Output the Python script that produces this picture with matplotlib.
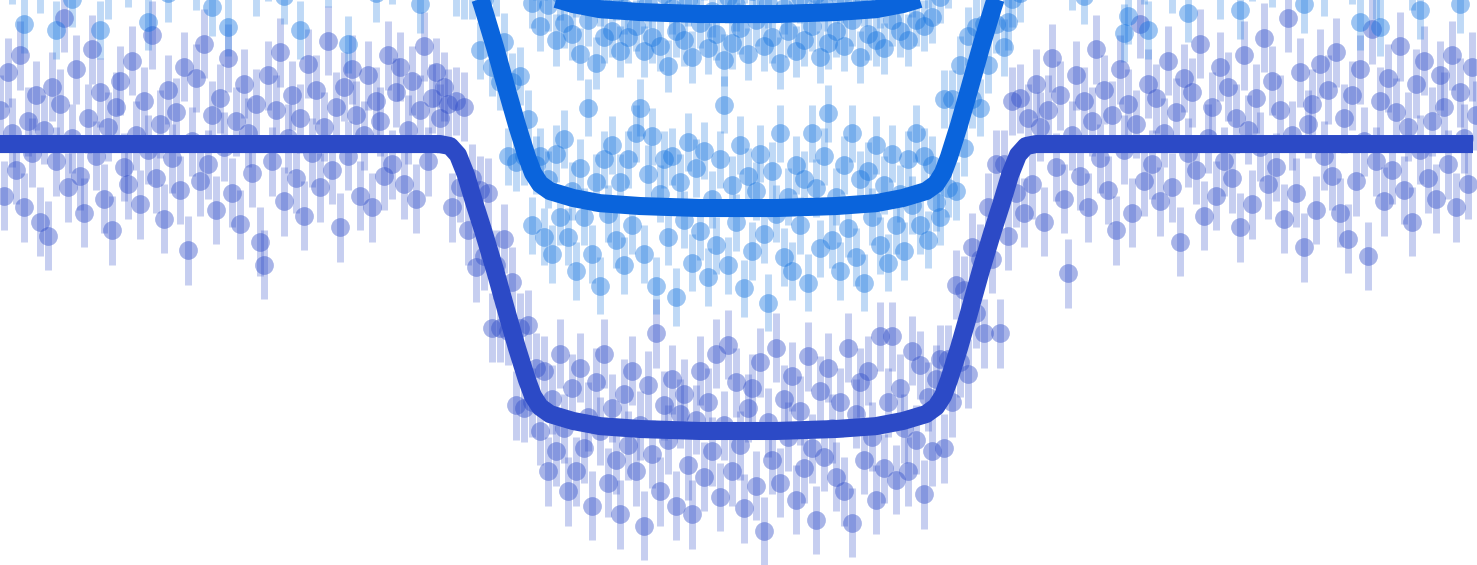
import numpy as np
import matplotlib
matplotlib.use("Agg")
import matplotlib.pyplot as plt

# time grid of the observations [hours from mid-transit], regular cadence
t_start = -7.38
cadence_h = 0.04

# relative flux, in units of 100 ppm (0.1 ppt), each series normalised to its own baseline
flux_band1 = [
    12, -18, 25, 4, -9, 31, -22, 8, -3, 17,
    -27, 5, -32, 20, -6, 14, 44, -15, 2, 26,
    -11, -24, 9, 33, -4, 18, -19, 6, -30, 13,
    22, -8, -14, 29, 3, -21, 15, -2, 38, -12,
    7, -26, 19, -5, 11, -16, 27, -37, 1, 23,
    -13, 35, -7, 10, -23, 16, -1, 30, -17, 8,
    -28, 21, 4, -10, 14, -34, -42, 24, -6, 12,
    32, -20, 2, 17, -12, 9, -25, 28, -3, 19,
    -15, 6, 36, -9, 13, -29, 20, -4, 26, 10,
    -18, 3, 24, -22, 15, 8, -11, 31, -7, 18,
    27, -14, 5, 22, -19, 12, 34, -6, 16, 25,
    9, 20, 14, -22, 15, -15, 13, -30, -12, -43,
    -16, -39, -17, -64, -42, -64, -33, -65, -48, -91,
    -64, -92, -63, -90, -78, -100, -79, -114, -89, -107,
    -73, -99, -121, -85, -114, -78, -106, -95, -126, -83,
    -100, -73, -118, -92, -110, -129, -87, -105, -79, -114,
    -98, -133, -84, -108, -66, -121, -91, -103, -82, -126,
    -94, -87, -112, -129, -96, -79, -116, -90, -107, -73,
    -123, -98, -70, -114, -83, -105, -127, -92, -85, -119,
    -76, -135, -97, -110, -71, -118, -89, -102, -81, -124,
    -93, -113, -74, -106, -131, -86, -109, -78, -99, -116,
    -90, -121, -71, -132, -94, -83, -110, -79, -102, -124,
    -67, -113, -90, -67, -117, -85, -99, -114, -72, -103,
    -77, -122, -88, -107, -82, -75, -106, -75, -90, -49,
    -76, -51, -80, -36, -59, -40, -66, -22, -40, -7,
    -66, -7, -32, 15, -17, 16, -24, 9, -14, 21,
    6, -27, 12, 30, -8, 17, -19, -45, 3, 24,
    -11, 15, -22, 8, 33, -5, 19, -16, 10, -30,
    26, -2, 14, -24, 7, 42, -13, 21, -7, 16,
    -20, 4, 29, -15, 11, -34, 23, -3, 18, -9,
    35, -25, 2, 13, -18, 27, -6, 20, -12, 9,
    -29, 31, 5, -21, 16, -1, 37, -14, 22, -8,
    12, -26, 44, 3, -17, 25, -36, 7, 14, -23,
    28, -4, 19, -11, 32, -24, 9, -33, 17, -13,
    26, 1, -39, 40, -6, 15, -20, 23, -9, 11,
    34, -16, 6, -27, 21, -2, 29, -12, 8, -19,
    24, 13, -7, 31, -22, 18, 2, -14, 27, 10,
]

flux_band2 = [
    15, -8, 22, -19, 4, 27, -36, 11, -13, 6,
    -22, 18, 3, -10, -38, 25, -5, 13, -27, 9,
    20, -16, 7, 31, -3, -38, 12, -24, 17, 1,
    -11, 24, -20, 8, 14, -7, 29, -35, 5, -14,
    19, -2, -25, 10, 33, -17, 6, -9, 23, -21,
    12, -4, 26, -30, 2, 16, -12, -37, 21, 8,
    -15, 30, -6, 11, -23, 17, 4, -18, 28, -1,
    9, -26, 14, 22, -10, -38, 19, 3, -14, 25,
    -7, 13, -20, 32, 6, -11, 18, -43, 10, -4,
    24, -16, 7, 15, -25, 29, -2, 12, -19, 20,
    4, -9, 27, -13, 16, -29, 8, 21, -6, 14,
    -17, 11, -12, 15, -23, 3, -24, 7, -24, -10,
    -45, -27, -19, -51, -23, -56, -42, -82, -56, -84,
    -54, -82, -69, -106, -85, -82, -110, -90, -116, -81,
    -103, -76, -110, -94, -122, -86, -103, -65, -116, -91,
    -127, -83, -102, -78, -111, -91, -120, -83, -106, -74,
    -65, -116, -88, -75, -127, -95, -83, -110, -82, -131,
    -91, -104, -77, -119, -86, -108, -80, -124, -97, -113,
    -83, -64, -120, -92, -105, -78, -128, -89, -115, -94,
    -81, -109, -133, -87, -102, -74, -117, -96, -122, -85,
    -106, -90, -126, -74, -93, -114, -82, -67, -111, -96,
    -122, -85, -107, -74, -117, -90, -126, -87, -103, -78,
    -113, -92, -119, -81, -106, -95, -115, -83, -99, -74,
    -106, -82, -111, -85, -98, -103, -62, -93, -62, -94,
    -50, -79, -40, -62, -37, -65, -36, -50, -14, -36,
    -1, -44, -35, -27, 8, -25, 10, -7, 13, -9,
    24, -17, 6, 19, -12, 28, -4, 10, -21, 15,
    2, -26, 21, -7, 11, 30, -15, 5, 17, -10,
    8, -39, -33, 23, -2, 14, -19, -38, 9, 26,
    -13, 3, 18, -22, 12, -6, 25, -32, 7, 20,
    -15, 33, -8, 1, 16, -24, 11, -3, 22, -11,
    -31, 14, 4, -18, 27, -9, 13, 19, -20, 8,
    31, -5, 15, -14, 24, 2, -29, 10, -16, 21,
    6, -23, 17, -2, 29, -12, 9, 14, -19, 5,
    -35, 22, -8, 12, -24, -37, 18, 3, 26, -13,
    10, -6, 19, -21, 7, -31, 15, -4, 23, -10,
    11, -17, 28, 1, -9, -29, 16, 6, -14, 20,
]

# third band: only the in-transit part is inside the frame
band3_first_index = 130
flux_band3 = [
    -65, -84, -72, -96, -86, -104, -86, -97, -84, -109,
    -93, -103, -83, -107, -92, -114, -88, -102, -84, -117,
    -95, -108, -87, -106, -93, -113, -98, -108, -83, -104,
    -89, -113, -96, -108, -85, -111, -93, -118, -98, -106,
    -88, -109, -95, -115, -91, -103, -86, -112, -99, -107,
    -89, -116, -94, -110, -97, -105, -87, -114, -92, -102,
    -90, -111, -96, -108, -85, -117, -98, -106, -91, -113,
    -94, -109, -88, -104, -93, -115, -97, -110, -86, -106,
    -94, -111, -90, -102, -88, -115, -95, -107, -85, -109,
    -96, -112, -91, -102, -87, -106, -90, -109, -92, -102,
    -82, -104, -89, -101, -83, -94, -80, -89, -68, -78, -61,
]

# best-fit transit model [hours, ppt]
model_t = [-7.38, -2.98, -2.88, -2.80, -2.72, -2.63, -2.55, -2.43, -2.31, -2.21,
           -2.11, -2.05, -1.98, -1.88, -1.65, -1.38, -0.98, -0.38, 0.0,
           0.38, 0.98, 1.38, 1.65, 1.88, 1.98, 2.05, 2.11, 2.21, 2.31,
           2.43, 2.55, 2.63, 2.72, 2.80, 2.88, 2.98, 7.35]
model_ppt = [0.0, 0.0, -0.07, -0.38, -1.08, -2.13, -3.00, -4.39, -5.89, -7.11,
             -8.22, -8.78, -9.16, -9.41, -9.65, -9.83, -9.93, -10.0, -10.0,
             -10.0, -9.93, -9.83, -9.65, -9.41, -9.16, -8.78, -8.22, -7.11, -5.89,
             -4.39, -3.00, -2.13, -1.08, -0.38, -0.07, 0.0, 0.0]

errors_ppt = [1.2, 1.0, 0.9]
offsets_ppt = [0.0, 7.77, 14.53]

col_band1 = (0.176, 0.294, 0.784)
col_band2 = (0.078, 0.45, 0.88)
line_band1 = '#2c4ac6'
line_band2 = '#0a64dc'

t_all = t_start + cadence_h * np.arange(len(flux_band1))
t_band3 = t_all[band3_first_index:band3_first_index + len(flux_band3)]

series = [
    (t_all, flux_band1, col_band1, line_band1),
    (t_all, flux_band2, col_band2, line_band2),
    (t_band3, flux_band3, col_band2, line_band2),
]

fig = plt.figure(figsize=(14.77, 5.65), dpi=100)
ax = fig.add_axes([0, 0, 1, 1])

for k, (t, f, c, lc) in enumerate(series):
    y = np.array(f) / 10.0 + offsets_ppt[k]
    ax.errorbar(t, y, yerr=errors_ppt[k], fmt='o', ms=13.5,
                mfc=(*c, 0.42), mec='none',
                ecolor=(*c, 0.27), elinewidth=5, capsize=0, zorder=1)

for k, (t, f, c, lc) in enumerate(series):
    ax.plot(model_t, np.array(model_ppt) + offsets_ppt[k], color=lc, lw=13,
            solid_joinstyle='round', solid_capstyle='butt', zorder=5)

ax.set_xlim(-7.38, 7.39)
ax.set_ylim(-14.67, 5.02)
ax.axis('off')

fig.savefig('out.png', dpi=100)
